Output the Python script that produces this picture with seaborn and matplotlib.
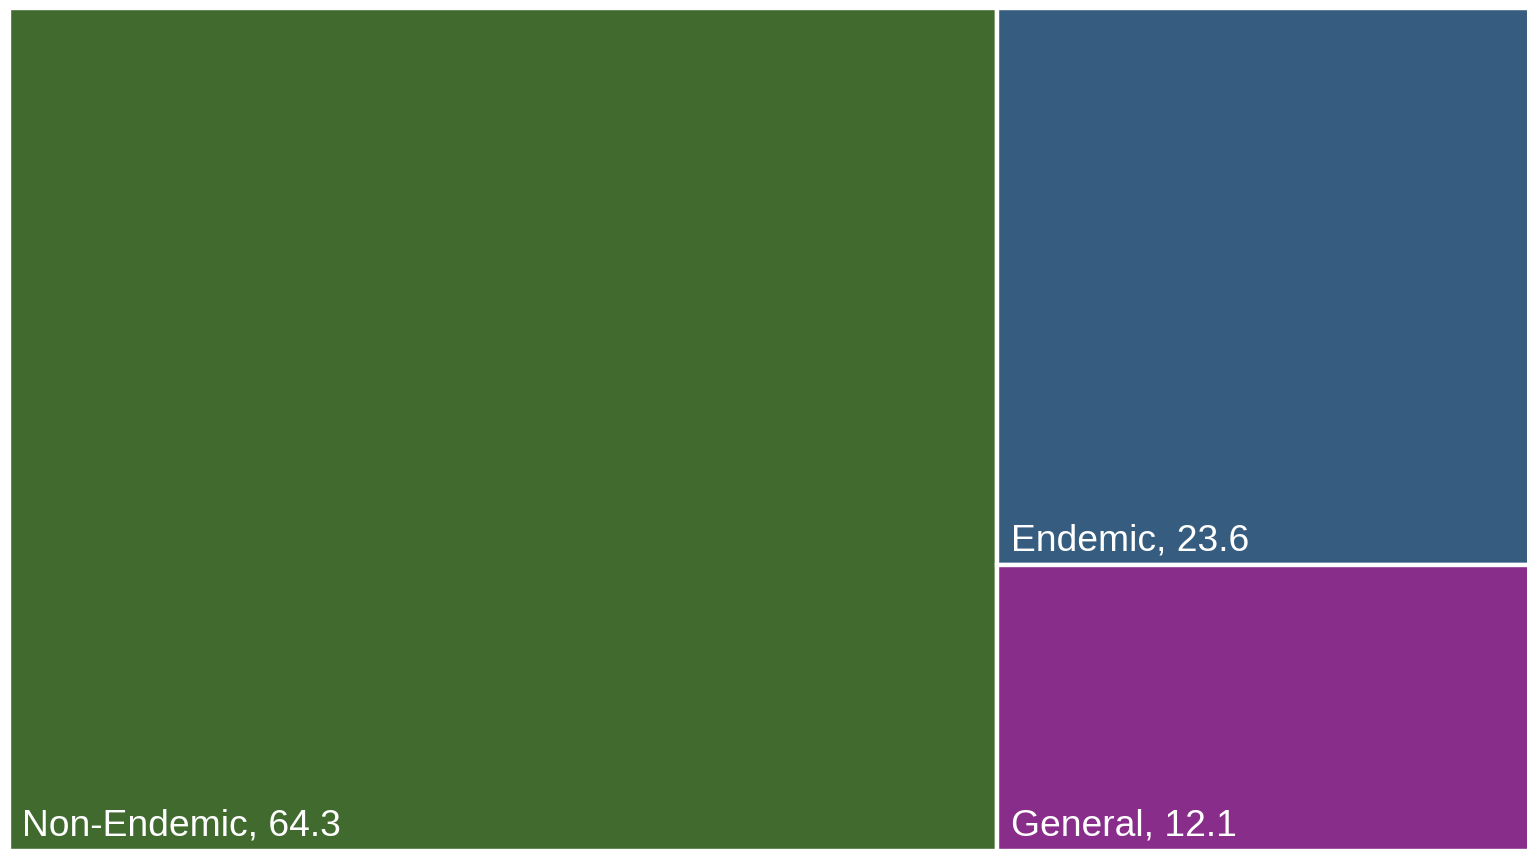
import matplotlib
matplotlib.use("Agg")
import matplotlib.pyplot as plt
import seaborn as sns

# Share of cases by category
categories = ["Non-Endemic", "Endemic", "General"]
values = [64.3, 23.6, 12.1]
colors = ["#416a2f", "#365d80", "#882d8a"]

sns.set_theme(style="white")
plt.rcParams["font.family"] = ["Liberation Sans", "DejaVu Sans"]

W, H = 1527, 851
dpi = 100
fig = plt.figure(figsize=(W / dpi, H / dpi), dpi=dpi)
fig.patch.set_facecolor("white")

# Axes in pixel terms (the right edge runs slightly past the canvas)
left_px, right_px, top_px, bottom_px = 9, 1546, 8, 851
ax = fig.add_axes([left_px / W, (H - bottom_px) / H,
                   (right_px - left_px) / W, (bottom_px - top_px) / H])
ax.set_xlim(0, 1)
ax.set_ylim(0, 1)
ax.set_axis_off()

# Slice-and-dice treemap layout: first cell takes a full-height column,
# remaining cells are stacked in the second column.
total = sum(values)
rects = []
x0 = values[0] / total
rects.append((0.0, 0.0, x0, 1.0))
rest = sum(values[1:])
top = 1.0
for v in values[1:]:
    h = v / rest
    rects.append((x0, top - h, 1.0 - x0, h))
    top -= h

edge_lw = 4.4 * 72 / dpi  # white separator between cells (~4 px)
for (x, y, w, h), c in zip(rects, colors):
    ax.bar(x, h, width=w, bottom=y, align="edge", color=c,
           edgecolor="white", linewidth=edge_lw)

for (x, y, w, h), cat, v in zip(rects, categories, values):
    ax.annotate(f"{cat}, {v}", xy=(x, y), xycoords="data",
                xytext=(13.5 * 72 / dpi, 15 * 72 / dpi), textcoords="offset points",
                ha="left", va="baseline", color="white", fontsize=26.8)

fig.savefig("out.png", dpi=dpi, facecolor="white")
